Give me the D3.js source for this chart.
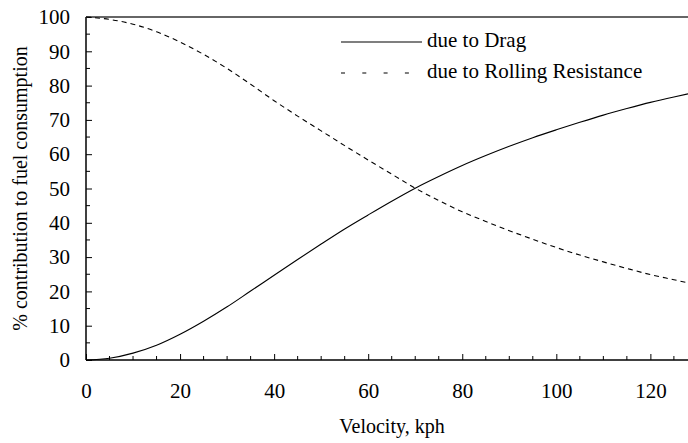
<!DOCTYPE html>
<html><head><meta charset="utf-8">
<script src="https://cdn.jsdelivr.net/npm/d3@7"></script>
<style>body{margin:0;background:#fff}</style></head>
<body><svg id="c" width="688" height="443" font-family="Liberation Serif"></svg>
<script>
const velocity = [0,5,10,15,20,25,30,35,40,45,50,55,60,65,70,75,80,85,90,95,100,105,110,115,120,125,128];
const dragPct = [0,0.5,2.0,4.3,7.5,11.3,15.5,20.1,24.7,29.3,33.8,38.2,42.3,46.3,50.1,53.5,56.7,59.6,62.3,64.8,67.1,69.3,71.4,73.3,75.1,76.7,77.6];
const rollingPct = [100,99.3,97.9,95.7,92.7,89.1,85,80.4,75.6,71.1,66.8,62.5,58.3,54.2,50.1,46.5,43.2,40.4,37.7,35.2,32.8,30.6,28.6,26.7,24.9,23.4,22.5];
const xTicks = [0,20,40,60,80,100,120];
const yTicks = [0,10,20,30,40,50,60,70,80,90,100];
const seriesNames = ["due to Drag","due to Rolling Resistance"];

const FONT = '"Liberation Serif"';
const svg = d3.select("#c");
const m = {l:86, r:0, t:17, b:83};
const W = 688, H = 443;
const x = d3.scaleLinear().domain([0,128]).range([m.l, W - m.r]);
const y = d3.scaleLinear().domain([0,100]).range([H - m.b, m.t]);

const xMinor = d3.range(0,129,5).filter(v => v % 20 !== 0);
const yMinor = d3.range(5,100,10);

const gx = svg.append("g").attr("transform",`translate(0,${y(0)})`)
  .call(d3.axisBottom(x).tickValues(xTicks).tickSize(-6).tickPadding(23).tickSizeOuter(0));
gx.attr("font-family",FONT).attr("font-size",21);
gx.select(".domain").remove();
gx.selectAll("text").attr("font-family",FONT).attr("font-size",21).attr("fill","#000");
gx.selectAll(".tick line").attr("stroke","#000");
svg.append("g").attr("transform",`translate(0,${y(0)})`)
  .selectAll("line").data(xMinor).join("line")
  .attr("x1",d=>x(d)).attr("x2",d=>x(d)).attr("y1",0).attr("y2",-4).attr("stroke","#000");

const gy = svg.append("g").attr("transform",`translate(${x(0)},0)`)
  .call(d3.axisLeft(y).tickValues(yTicks).tickSize(-6).tickPadding(16).tickSizeOuter(0));
gy.attr("font-family",FONT).attr("font-size",21);
gy.select(".domain").remove();
gy.selectAll("text").attr("font-family",FONT).attr("font-size",21).attr("fill","#000");
gy.selectAll(".tick line").attr("stroke","#000");
svg.append("g").attr("transform",`translate(${x(0)},0)`)
  .selectAll("line").data(yMinor).join("line")
  .attr("y1",d=>y(d)).attr("y2",d=>y(d)).attr("x1",0).attr("x2",4).attr("stroke","#000");

svg.append("line").attr("x1",x(0)).attr("x2",W).attr("y1",y(0)).attr("y2",y(0)).attr("stroke","#000").attr("stroke-width",1.5);
svg.append("line").attr("x1",x(0)).attr("x2",x(0)).attr("y1",y(0)).attr("y2",y(100)).attr("stroke","#000").attr("stroke-width",1.5);
svg.append("line").attr("x1",x(0)).attr("x2",W).attr("y1",y(100)).attr("y2",y(100)).attr("stroke","#333").attr("stroke-width",1.5);

const line = d3.line().x((d,i)=>x(velocity[i])).y(d=>y(d)).curve(d3.curveMonotoneX);
svg.append("path").attr("d",line(dragPct)).attr("fill","none").attr("stroke","#000").attr("stroke-width",1.1);
svg.append("path").attr("d",line(rollingPct)).attr("fill","none").attr("stroke","#000").attr("stroke-width",1.1).attr("stroke-dasharray","5,4");

const lg = svg.append("g");
lg.append("line").attr("x1",341).attr("x2",422).attr("y1",42).attr("y2",42).attr("stroke","#000").attr("stroke-width",1.1);
lg.append("line").attr("x1",341).attr("x2",410).attr("y1",73).attr("y2",73).attr("stroke","#000").attr("stroke-width",1.1).attr("stroke-dasharray","4,17.3");
lg.selectAll("text").data(seriesNames).join("text")
  .attr("x",427).attr("y",(d,i)=>47 + i*31).attr("font-family",FONT).attr("font-size",21).attr("fill","#000").text(d=>d);

svg.append("text").attr("x",392).attr("y",433).attr("text-anchor","middle")
  .attr("font-family",FONT).attr("font-size",20).attr("fill","#000").text("Velocity, kph");
svg.append("text").attr("transform",`translate(27,${(y(0)+y(100))/2}) rotate(-90)`).attr("text-anchor","middle")
  .attr("font-family",FONT).attr("font-size",20).attr("fill","#000").text("% contribution to fuel consumption");
</script></body></html>
